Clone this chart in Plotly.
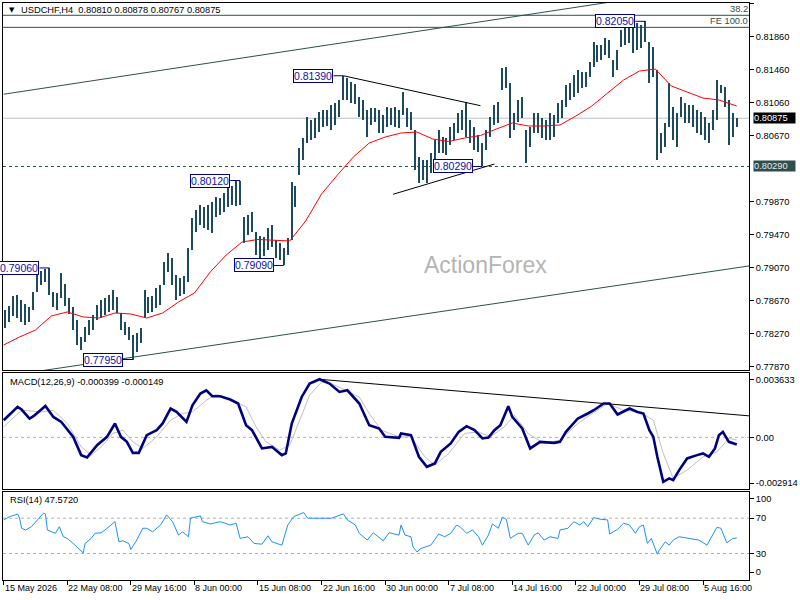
import plotly.graph_objects as go

# ---------------- data ----------------
# x axis: H4 bar index (0 = 15 May 2026 00:00)
tick_idx = [0, 32, 64, 96, 128, 160, 192, 224, 256, 288, 320, 352]
tick_text = ["15 May 2026", "22 May 08:00", "29 May 16:00", "8 Jun 00:00", "15 Jun 08:00",
             "22 Jun 16:00", "30 Jun 00:00", "7 Jul 08:00", "14 Jul 16:00", "22 Jul 00:00",
             "29 Jul 08:00", "5 Aug 16:00"]

# price bars (every other H4 bar), high / low
bar_idx = list(range(1, 370, 2))
bar_high = [
    0.78550, 0.78599, 0.78720, 0.78732, 0.78672, 0.78623, 0.78587, 0.78769, 0.79035, 0.79023,
    0.79047, 0.79060, 0.78769, 0.78756, 0.78999, 0.78866, 0.78696, 0.78587, 0.78429, 0.78223,
    0.78344, 0.78429, 0.78490, 0.78611, 0.78672, 0.78696, 0.78732, 0.78793, 0.78708, 0.78514,
    0.78405, 0.78344, 0.78247, 0.78272, 0.78332, 0.78793, 0.78708, 0.78720, 0.78817, 0.78853,
    0.79132, 0.79241, 0.79181, 0.78975, 0.78938, 0.78962, 0.79302, 0.79666, 0.79762, 0.79823,
    0.79799, 0.79823, 0.79860, 0.79920, 0.79908, 0.79969, 0.80029, 0.80053, 0.80114, 0.80120,
    0.79678, 0.79702, 0.79738, 0.79496, 0.79447, 0.79435, 0.79544, 0.79581, 0.79399, 0.79362,
    0.79302, 0.79423, 0.80102, 0.80053, 0.80514, 0.80635, 0.80890, 0.80853, 0.80878, 0.80950,
    0.80975, 0.80975, 0.81035, 0.81060, 0.81096, 0.81390, 0.81363, 0.81314, 0.81290, 0.81132,
    0.81096, 0.80975, 0.80999, 0.80999, 0.80975, 0.80914, 0.81011, 0.80999, 0.81011, 0.80975,
    0.81193, 0.80999, 0.80950, 0.80732, 0.80405, 0.80369, 0.80369, 0.80453, 0.80611, 0.80732,
    0.80647, 0.80635, 0.80769, 0.80817, 0.80938, 0.80975, 0.81072, 0.80853, 0.80769, 0.80672,
    0.80575, 0.80732, 0.80890, 0.81035, 0.81072, 0.81484, 0.81496, 0.81302, 0.80938, 0.81096,
    0.81132, 0.80732, 0.80769, 0.80938, 0.80938, 0.80878, 0.80853, 0.80938, 0.80914, 0.81060,
    0.81096, 0.81278, 0.81302, 0.81399, 0.81460, 0.81435, 0.81435, 0.81557, 0.81799, 0.81763,
    0.81763, 0.81847, 0.81823, 0.81581, 0.81702, 0.81944, 0.81981, 0.81981, 0.82029, 0.82029,
    0.82005, 0.82050, 0.81799, 0.81738, 0.81460, 0.80696, 0.80817, 0.81302, 0.81011, 0.80938,
    0.81132, 0.81060, 0.81035, 0.81035, 0.80975, 0.80950, 0.80890, 0.80817, 0.80975, 0.81338,
    0.81278, 0.81254, 0.81096, 0.80938, 0.80878]
bar_low = [
    0.78332, 0.78405, 0.78478, 0.78453, 0.78405, 0.78369, 0.78405, 0.78550, 0.78769, 0.78853,
    0.78890, 0.78732, 0.78587, 0.78550, 0.78696, 0.78599, 0.78502, 0.78308, 0.78126, 0.78066,
    0.78162, 0.78247, 0.78308, 0.78429, 0.78453, 0.78490, 0.78526, 0.78550, 0.78514, 0.78308,
    0.78247, 0.78187, 0.77950, 0.78041, 0.78150, 0.78453, 0.78514, 0.78526, 0.78575, 0.78611,
    0.78853, 0.79011, 0.78853, 0.78672, 0.78720, 0.78744, 0.78890, 0.79278, 0.79496, 0.79581,
    0.79544, 0.79520, 0.79484, 0.79678, 0.79702, 0.79738, 0.79799, 0.79823, 0.79811, 0.79823,
    0.79362, 0.79460, 0.79496, 0.79217, 0.79181, 0.79205, 0.79278, 0.79314, 0.79181, 0.79157,
    0.79090, 0.79217, 0.79399, 0.79799, 0.80187, 0.80369, 0.80575, 0.80611, 0.80635, 0.80708,
    0.80769, 0.80781, 0.80732, 0.80793, 0.80890, 0.81096, 0.81096, 0.81060, 0.81047, 0.80890,
    0.80853, 0.80647, 0.80793, 0.80829, 0.80696, 0.80696, 0.80769, 0.80793, 0.80769, 0.80756,
    0.80914, 0.80769, 0.80732, 0.80247, 0.80090, 0.80126, 0.80090, 0.80211, 0.80308, 0.80453,
    0.80453, 0.80429, 0.80550, 0.80611, 0.80696, 0.80732, 0.80647, 0.80575, 0.80490, 0.80466,
    0.80290, 0.80490, 0.80647, 0.80793, 0.80817, 0.81217, 0.81241, 0.80635, 0.80732, 0.80829,
    0.80878, 0.80332, 0.80526, 0.80696, 0.80696, 0.80635, 0.80611, 0.80611, 0.80647, 0.80817,
    0.80878, 0.81011, 0.81096, 0.81132, 0.81181, 0.81241, 0.81254, 0.81375, 0.81496, 0.81557,
    0.81581, 0.81641, 0.81605, 0.81375, 0.81460, 0.81738, 0.81763, 0.81787, 0.81666, 0.81702,
    0.81726, 0.81799, 0.81302, 0.81375, 0.80369, 0.80453, 0.80526, 0.80769, 0.80611, 0.80526,
    0.80890, 0.80817, 0.80817, 0.80769, 0.80696, 0.80672, 0.80611, 0.80575, 0.80732, 0.80853,
    0.81181, 0.81011, 0.80550, 0.80647, 0.80767]

# red moving average
ma_idx = [0, 8, 16, 24, 32, 40, 48, 56, 64, 72, 80, 88, 96, 104, 112, 120, 128, 136, 144, 152,
          160, 168, 176, 184, 192, 200, 208, 216, 224, 232, 240, 248, 256, 264, 272, 280, 288,
          296, 304, 312, 320, 328, 336, 344, 352, 360, 368, 369]
ma_val = [0.78126, 0.78223, 0.78308, 0.78478, 0.78526, 0.78466, 0.78453, 0.78514, 0.78502, 0.78453,
          0.78514, 0.78647, 0.78756, 0.79011, 0.79217, 0.79375, 0.79405, 0.79399, 0.79387, 0.79629,
          0.79956, 0.80187, 0.80405, 0.80575, 0.80647, 0.80696, 0.80708, 0.80623, 0.80593, 0.80635,
          0.80666, 0.80744, 0.80817, 0.80781, 0.80781, 0.80793, 0.80902, 0.81023, 0.81181, 0.81338,
          0.81447, 0.81472, 0.81266, 0.81193, 0.81120, 0.81096, 0.81035, 0.81023]

# MACD(12,26,9)
macd_idx = [0, 4, 7, 9, 13, 15, 21, 25, 29, 35, 39, 42, 47, 52, 56, 59, 62, 65, 68, 72, 77, 80,
            84, 87, 92, 95, 99, 102, 105, 109, 114, 118, 122, 125, 130, 135, 140, 142, 145, 150,
            154, 159, 164, 169, 173, 179, 184, 189, 192, 199, 200, 205, 209, 213, 217, 220, 225,
            229, 233, 237, 241, 244, 247, 250, 254, 256, 261, 265, 270, 277, 280, 283, 289, 294,
            297, 302, 305, 309, 315, 319, 322, 325, 327, 329, 332, 335, 337, 340, 344, 349, 352,
            355, 358, 360, 362, 365, 369]
macd_val = [0.000968, 0.001379, 0.001717, 0.001571, 0.001064, 0.001194, 0.001773, 0.001154,
            0.000873, 0.000028, -0.001002, -0.001132, -0.000439, 0.000028, 0.000783, 0.000028,
            -0.000253, -0.000873, -0.000873, 0.000124, 0.000405, 0.000783, 0.001627, 0.001436,
            0.000873, 0.001813, 0.002472, 0.002657, 0.002320, 0.002320, 0.002134, 0.001909,
            0.000687, 0.000405, -0.000625, -0.000535, -0.001002, -0.000906, 0.000783, 0.002280,
            0.003035, 0.003277, 0.003035, 0.002562, 0.002657, 0.001909, 0.000687, 0.000501,
            0.000028, -0.000028, 0.000220, 0.000124, -0.001098, -0.001661, -0.001469, -0.000816,
            -0.000343, 0.000310, 0.000631, 0.000405, -0.000062, -0.000006, 0.000405, 0.000687,
            0.001757, 0.001154, 0.000501, -0.000625, -0.000253, -0.000310, -0.000253, 0.000310,
            0.001064, 0.001346, 0.001531, 0.001909, 0.001909, 0.001289, 0.001627, 0.001436,
            0.001346, 0.000405, 0.000028, -0.001098, -0.002505, -0.002314, -0.002410, -0.001847,
            -0.001188, -0.001002, -0.000906, -0.001098, -0.000625, 0.000124, 0.000310, -0.000253,
            -0.000399]
sig_idx = [0, 9, 19, 25, 32, 39, 44, 49, 55, 60, 65, 70, 77, 84, 90, 95, 102, 107, 115, 122,
           127, 132, 139, 144, 149, 154, 160, 165, 172, 179, 184, 190, 199, 205, 212, 217, 224,
           232, 239, 245, 252, 257, 264, 272, 280, 289, 295, 304, 312, 320, 327, 332, 337, 344,
           352, 359, 365, 369]
sig_val = [0.000591, 0.001531, 0.001436, 0.001531, 0.000783, -0.000535, -0.001002, -0.000535,
           0.000220, 0.000405, -0.000253, -0.000625, 0.000028, 0.000968, 0.001346, 0.001436,
           0.002094, 0.002432, 0.002094, 0.001717, 0.000591, -0.000253, -0.000721, -0.000439,
           0.000968, 0.002376, 0.003125, 0.003035, 0.002657, 0.002280, 0.001346, 0.000405,
           0.000028, 0.000028, -0.001098, -0.001565, -0.000906, 0.000220, 0.000310, 0.000028,
           0.000591, 0.001250, 0.000220, -0.000343, -0.000158, 0.000783, 0.001250, 0.001909,
           0.001531, 0.001436, 0.000968, -0.000906, -0.002314, -0.001847, -0.001098, -0.000816,
           -0.000062, -0.000149]
macd_max, macd_min = 0.003633, -0.002914

# RSI(14)
rsi_idx = [0, 3, 7, 8, 9, 11, 14, 17, 20, 21, 22, 26, 28, 30, 32, 35, 37, 40, 41, 44, 46, 49,
           51, 55, 56, 58, 60, 63, 64, 67, 70, 72, 75, 79, 82, 85, 88, 90, 93, 94, 99, 100, 104,
           109, 114, 117, 119, 123, 126, 130, 133, 135, 140, 141, 143, 146, 151, 153, 159, 165,
           171, 173, 177, 179, 183, 186, 191, 194, 199, 200, 202, 205, 206, 208, 210, 213, 215,
           219, 222, 225, 228, 230, 233, 236, 239, 241, 244, 246, 249, 251, 253, 255, 259, 261,
           264, 267, 269, 272, 275, 279, 280, 284, 287, 290, 292, 294, 297, 300, 304, 305, 309,
           312, 315, 318, 320, 322, 324, 326, 329, 330, 333, 335, 337, 340, 345, 350, 354, 359,
           361, 364, 367, 369]
rsi_val = [68.1, 71.8, 74.6, 70.0, 58.6, 56.6, 60.4, 68.1, 75.7, 74.9, 56.6, 52.9, 60.4, 49.0,
           47.1, 41.4, 37.5, 30.7, 41.4, 47.1, 52.9, 53.5, 56.6, 64.3, 66.1, 43.3, 44.4, 41.4,
           34.6, 45.2, 58.6, 58.6, 54.7, 62.3, 73.8, 66.1, 50.9, 54.7, 49.0, 70.0, 72.6, 66.1,
           63.5, 66.1, 62.3, 64.3, 47.1, 49.0, 41.4, 40.6, 50.1, 43.3, 39.5, 47.1, 62.3, 71.8,
           76.4, 70.0, 70.0, 70.0, 74.9, 68.1, 62.3, 52.9, 45.2, 53.5, 44.4, 53.5, 50.9, 62.3,
           50.9, 49.0, 37.5, 31.8, 35.7, 37.5, 39.5, 52.1, 49.0, 52.9, 62.3, 59.7, 52.9, 56.6,
           49.0, 39.5, 50.9, 63.5, 58.6, 71.1, 68.9, 47.1, 52.9, 52.9, 39.5, 50.9, 53.5, 45.2,
           49.0, 47.1, 56.6, 58.6, 66.1, 62.3, 66.1, 60.4, 70.7, 68.9, 68.1, 52.1, 57.4, 64.3,
           62.3, 52.9, 60.4, 62.3, 41.4, 47.1, 29.2, 33.8, 43.3, 39.5, 45.2, 49.0, 47.1, 45.2,
           39.5, 59.7, 58.6, 42.1, 47.1, 47.572]

# levels and drawn objects (bar index, price)
last_price = 0.80875
support_level = 0.80290
fib_382_level = 0.82123
fe_100_level = 0.81977
swing_idx = [23, 65, 119, 141, 171, 241, 323]
swing_price = [0.79060, 0.77950, 0.80120, 0.79090, 0.81390, 0.80290, 0.82050]
channel_top = ([0, 320], [0.81166, 0.82337])
channel_bottom = ([0, 376], [0.77746, 0.79087])
tri_top = ([171, 240], [0.81390, 0.81027])
tri_bottom = ([196, 247], [0.79953, 0.80320])
macd_trend = ([159, 376], [0.003277, 0.001205])

price_ticks = [0.8226, 0.8186, 0.8146, 0.8106, 0.8066, 0.7986, 0.7946, 0.7906, 0.7866,
               0.7826, 0.7786]
price_tick_text = ["0.82260", "0.81860", "0.81460", "0.81060", "0.80670", "0.79870",
                   "0.79470", "0.79070", "0.78670", "0.78270", "0.77870"]

# ---------------- figure ----------------
FONT = "Liberation Sans, Arial, sans-serif"
BAR_COLOR = "#1c4a5c"
SLATE = "#2f4f4f"

fig = go.Figure()

fig.add_trace(go.Bar(x=bar_idx, base=bar_low, y=[h - l for h, l in zip(bar_high, bar_low)],
                     width=0.75, marker=dict(color=BAR_COLOR, line=dict(width=0)),
                     xaxis="x", yaxis="y", hoverinfo="skip"))
fig.add_trace(go.Scatter(x=ma_idx, y=ma_val, mode="lines", line=dict(color="#ff0000", width=1),
                         xaxis="x", yaxis="y"))
for (xs, ys), col in [(channel_top, SLATE), (channel_bottom, SLATE), (tri_top, "black"),
                      (tri_bottom, "black")]:
    fig.add_trace(go.Scatter(x=xs, y=ys, mode="lines", line=dict(color=col, width=1),
                             xaxis="x", yaxis="y"))
# label connectors
for i, p in zip(swing_idx, swing_price):
    fig.add_trace(go.Scatter(x=[i - 5, i], y=[p, p], mode="lines",
                             line=dict(color="#000080", width=1), xaxis="x", yaxis="y"))

# MACD panel
fig.add_trace(go.Scatter(x=sig_idx, y=sig_val, mode="lines", line=dict(color="#c0c0c0", width=1),
                         xaxis="x2", yaxis="y2"))
fig.add_trace(go.Scatter(x=macd_idx, y=macd_val, mode="lines", line=dict(color="#000080", width=2.6),
                         xaxis="x2", yaxis="y2"))
fig.add_trace(go.Scatter(x=macd_trend[0], y=macd_trend[1], mode="lines",
                         line=dict(color="black", width=1), xaxis="x2", yaxis="y2"))

# RSI panel
fig.add_trace(go.Scatter(x=rsi_idx, y=rsi_val, mode="lines", line=dict(color="#1e90ff", width=1),
                         xaxis="x3", yaxis="y3"))

shapes = [
    dict(type="line", xref="x domain", yref="y", x0=0, x1=1, y0=last_price, y1=last_price,
         line=dict(color="#c0c0c0", width=1), layer="below"),
    dict(type="line", xref="x domain", yref="y", x0=0, x1=1, y0=support_level, y1=support_level,
         line=dict(color=SLATE, width=1, dash="3px,3px"), layer="below"),
    dict(type="line", xref="x domain", yref="y", x0=0, x1=1, y0=fib_382_level, y1=fib_382_level,
         line=dict(color=SLATE, width=1), layer="below"),
    dict(type="line", xref="x domain", yref="y", x0=0, x1=1, y0=fe_100_level, y1=fe_100_level,
         line=dict(color=SLATE, width=1), layer="below"),
    dict(type="line", xref="x2 domain", yref="y2", x0=0, x1=1, y0=0, y1=0,
         line=dict(color="#b0b0b0", width=1, dash="3px,3px"), layer="below"),
    dict(type="line", xref="x3 domain", yref="y3", x0=0, x1=1, y0=70, y1=70,
         line=dict(color="#b0b0b0", width=1, dash="3px,3px"), layer="below"),
    dict(type="line", xref="x3 domain", yref="y3", x0=0, x1=1, y0=30, y1=30,
         line=dict(color="#b0b0b0", width=1, dash="3px,3px"), layer="below"),
]

ann = []
# swing price labels
for i, p in zip(swing_idx, swing_price):
    ann.append(dict(x=i - 5, y=p, xref="x", yref="y", xanchor="right", yanchor="middle",
                    text=f"{p:.5f}", showarrow=False, bgcolor="white", bordercolor="#000080",
                    borderwidth=1, borderpad=0, font=dict(family=FONT, size=10.5, color="#1010a0")))
# current price / level boxes on the axis
ann.append(dict(x=1, y=last_price, xref="paper", yref="y", xanchor="left", yanchor="middle",
                xshift=4, text=f"{last_price:.5f}", showarrow=False, bgcolor="black", width=41,
                align="left", borderpad=0, font=dict(family=FONT, size=9.3, color="white")))
ann.append(dict(x=1, y=support_level, xref="paper", yref="y", xanchor="left", yanchor="middle",
                xshift=4, text=f"{support_level:.5f}", showarrow=False, bgcolor=SLATE, width=41,
                align="left", borderpad=0, font=dict(family=FONT, size=9.3, color="#e8e8e8")))
# fib labels
ann.append(dict(x=1, y=fib_382_level, xref="paper", yref="y", xanchor="right", yanchor="bottom",
                text="38.2", showarrow=False, borderpad=0, font=dict(family=FONT, size=9.3, color=SLATE)))
ann.append(dict(x=1, y=fe_100_level, xref="paper", yref="y", xanchor="right", yanchor="bottom",
                text="FE 100.0", showarrow=False, borderpad=0, font=dict(family=FONT, size=9.3, color=SLATE)))
# headers
ann.append(dict(x=0.0053, y=0.9875, xref="paper", yref="paper", xanchor="left", yanchor="middle",
                text="▼", showarrow=False, font=dict(family="DejaVu Sans", size=7, color="black")))
ann.append(dict(x=0.0215, y=0.9875, xref="paper", yref="paper", xanchor="left", yanchor="middle",
                text="USDCHF,H4\u00a0\u00a00.80810 0.80878 0.80767 0.80875", showarrow=False,
                font=dict(family=FONT, size=9.3, color="black")))
ann.append(dict(x=0.0067, y=0.3432, xref="paper", yref="paper", xanchor="left", yanchor="middle",
                text="MACD(12,26,9) -0.000399 -0.000149", showarrow=False,
                font=dict(family=FONT, size=9.3, color="black")))
ann.append(dict(x=0.0067, y=0.1386, xref="paper", yref="paper", xanchor="left", yanchor="middle",
                text="RSI(14) 47.5720", showarrow=False, font=dict(family=FONT, size=9.3, color="black")))
# watermark
ann.append(dict(x=0.6465, y=0.546, xref="paper", yref="paper", xanchor="center", yanchor="middle",
                text="ActionForex", showarrow=False, font=dict(family=FONT, size=23, color="#b4b4b4")))
# time axis labels
for t, s in zip(tick_idx, tick_text):
    ann.append(dict(x=t, y=0, xref="x3", yref="paper", xanchor="left", yanchor="top", yshift=-2,
                    text=s, showarrow=False, borderpad=0, font=dict(family=FONT, size=9, color="black")))

axis_common = dict(showline=True, linecolor="black", linewidth=1, mirror=True, showgrid=False,
                   zeroline=False)
macd_span = macd_max - macd_min

fig.update_layout(
    width=800, height=600, margin=dict(l=2, r=47, t=3, b=20),
    paper_bgcolor="white", plot_bgcolor="white", showlegend=False, bargap=0,
    font=dict(family=FONT, size=9.3, color="black"),
    xaxis=dict(domain=[0, 1], range=[-0.35, 375.15], anchor="y", showticklabels=False, ticks="",
               **axis_common),
    xaxis2=dict(domain=[0, 1], matches="x", anchor="y2", showticklabels=False, ticks="", **axis_common),
    xaxis3=dict(domain=[0, 1], matches="x", anchor="y3", showticklabels=False, ticks="outside",
                ticklen=4, tickcolor="black", tickvals=tick_idx, **axis_common),
    yaxis=dict(domain=[0.364, 1.0], range=[0.77823, 0.82272], side="right", anchor="x",
               ticks="outside", ticklen=4, tickcolor="black", tickvals=price_ticks,
               ticktext=price_tick_text, tickfont=dict(size=9.3), **axis_common),
    yaxis2=dict(domain=[0.1577, 0.3588], range=[macd_min, macd_max], side="right", anchor="x2",
                ticks="outside", ticklen=4, tickcolor="black",
                tickvals=[macd_max - macd_span * 7 / 116, 0, macd_min + macd_span * 6 / 116],
                ticktext=["0.003633", "0.00", "-0.002914"], tickfont=dict(size=9.3), **axis_common),
    yaxis3=dict(domain=[0, 0.153], range=[0, 100], side="right", anchor="x3",
                ticks="outside", ticklen=4, tickcolor="black",
                tickvals=[92.5, 70, 30, 8.9], ticktext=["100", "70", "30", "0"],
                tickfont=dict(size=9.3), **axis_common),
    shapes=shapes, annotations=ann,
)

fig.write_html("out.html", config={"displayModeBar": False},
               post_script="document.body.style.margin='0px';")
